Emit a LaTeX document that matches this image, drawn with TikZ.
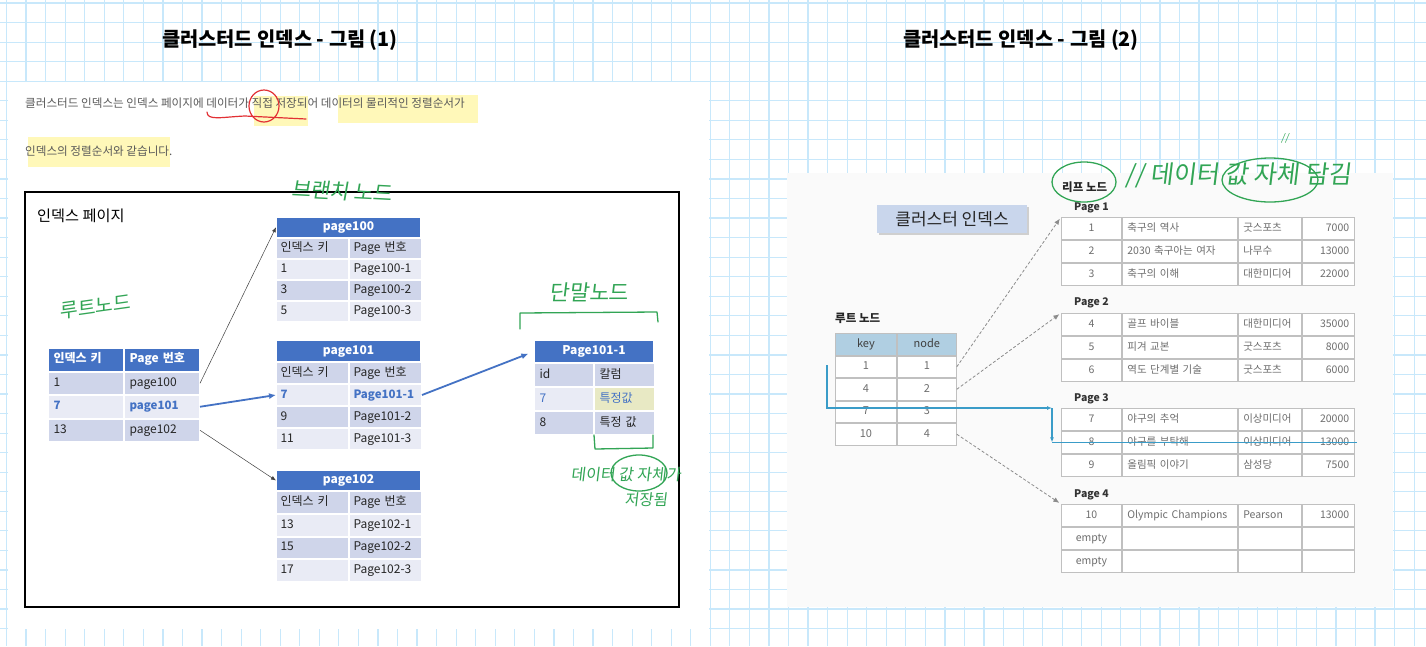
\documentclass[tikz,border=0pt]{standalone}
\usepackage{fontspec}
\setmainfont{Noto Sans CJK KR}
\newfontfamily\handfont[FakeSlant=0.12]{Noto Sans CJK KR}
\usepackage{tikz}
\usetikzlibrary{positioning, arrows.meta, calc, shadows}
\definecolor{gridblue}{RGB}{200, 232, 251}
\definecolor{hdblue}{RGB}{68, 114, 196}
\definecolor{rowdk}{RGB}{207, 213, 234}
\definecolor{rowlt}{RGB}{233, 235, 245}
\definecolor{txtdk}{RGB}{38, 38, 38}
\definecolor{bodygray}{RGB}{89, 89, 89}
\definecolor{hilite}{RGB}{255, 248, 185}
\definecolor{cellmark}{RGB}{232, 233, 196}
\definecolor{penred}{RGB}{226, 48, 52}
\definecolor{pengreen}{RGB}{50, 165, 85}
\definecolor{leafline}{RGB}{192, 192, 192}
\definecolor{leaftxt}{RGB}{110, 110, 110}
\definecolor{keyblue}{RGB}{176, 207, 226}
\definecolor{boxblue}{RGB}{201, 214, 236}
\definecolor{traceblue}{RGB}{58, 156, 200}
\definecolor{panelgray}{RGB}{250, 250, 250}
% one row of a two-column table
\newcommand{\prow}[6]{%
  \node[#3] (#1a) at #2 {#5};
  \node[#4] (#1b) at (#1a.north east) {#6};
}
% one row of a leaf page (right picture)
\newcommand{\leafrow}[6]{%
  \node[lcell, lc1] (#1a) at #2 {#3};
  \node[lcell, lc2] (#1b) at (#1a.north east) {#4};
  \node[lcell, lc3] (#1c) at (#1b.north east) {#5};
  \node[lcell, lc4] (#1d) at (#1c.north east) {#6};
}
\tikzset{
  gridline/.style={draw=gridblue, line width=1.2pt},
  title/.style={font=\fontsize{19.8}{22}\selectfont\bfseries, text=black},
  intro/.style={font=\fontsize{11.6}{14}\selectfont, text=bodygray, anchor=west, inner sep=0pt},
  cell/.style={draw=white, line width=1pt, inner xsep=5pt, inner ysep=0pt,
    font=\fontsize{12}{14}\selectfont, text=txtdk, align=left, anchor=north west,
    text height=9pt, text depth=3pt},
  rootcol/.style={cell, text width=65pt, minimum height=22.5pt},
  pagecol/.style={cell, inner xsep=4pt, text width=64pt, minimum height=21pt},
  leafA/.style={cell, text width=49pt, minimum height=23pt},
  leafB/.style={cell, text width=50pt, minimum height=23pt},
  bar/.style={cell, fill=hdblue, text=white, font=\fontsize{12}{14}\selectfont\bfseries,
    text width=134pt, align=center},
  hdr/.style={fill=hdblue, text=white, font=\fontsize{12}{14}\selectfont\bfseries},
  dk/.style={fill=rowdk},
  lt/.style={fill=rowlt},
  hot/.style={text=hdblue, font=\fontsize{11.5}{14}\selectfont\bfseries},
  hotlt/.style={text=hdblue},
  marked/.style={fill=cellmark},
  thinarrow/.style={draw=black!75, line width=0.5pt, -{Latex[length=5pt, width=4pt]}},
  hotarrow/.style={draw=hdblue, line width=1.8pt, -{Latex[length=7pt, width=6pt]}},
  pen/.style={draw=pengreen, line width=1.3pt, line cap=round, line join=round},
  redpen/.style={draw=penred, line width=1.2pt, line cap=round, line join=round},
  hand/.style={text=pengreen, inner sep=0pt},
  clbox/.style={fill=boxblue, minimum width=150pt, minimum height=28pt,
    font=\fontsize{17}{19}\selectfont, text=black!85,
    drop shadow={shadow xshift=1.5pt, shadow yshift=-1.5pt, opacity=0.35}},
  boldlbl/.style={font=\fontsize{11.5}{13}\selectfont\bfseries, text=black!85, anchor=west, inner sep=0pt},
  pagelbl/.style={font=\fontsize{10.5}{12}\selectfont\bfseries, text=black!80, anchor=west, inner sep=0pt},
  lcell/.style={draw=leafline, line width=0.9pt, fill=white, inner xsep=5pt, inner ysep=0pt,
    minimum height=22pt, font=\fontsize{10.5}{12}\selectfont, text=leaftxt, anchor=north west,
    text height=8pt, text depth=2.5pt},
  lc1/.style={text width=50pt, align=center},
  lc2/.style={text width=105pt, align=left},
  lc3/.style={text width=53pt, align=left},
  lc4/.style={text width=42pt, align=right},
  rkey/.style={lcell, text width=51pt, align=center, minimum height=21.6pt, font=\fontsize{11}{13}\selectfont},
  rnode/.style={lcell, text width=49pt, align=center, minimum height=21.6pt, font=\fontsize{11}{13}\selectfont},
  keyhd/.style={fill=keyblue, text=black!75},
  dashlink/.style={draw=black!45, densely dashed, line width=0.8pt, -{Latex[length=6pt, width=5pt]}},
  trace/.style={draw=traceblue, line width=1.1pt},
}

\begin{document}
\begin{tikzpicture}[x=1pt, y=-1pt, >=Latex]
\useasboundingbox (0,0) rectangle (1426,646);

% grid paper and the two panels
\foreach \i in {0,...,72} \draw[gridline] (6.5+19.55*\i,0) -- (6.5+19.55*\i,646);
\foreach \j in {0,...,32} \draw[gridline] (0,3+19.55*\j) -- (1426,3+19.55*\j);
\fill[white] (8,82) rectangle (709,629);
\fill[panelgray] (787,173) rectangle (1393,607);

\node[title] (title1) at (280,40) {클러스터드 인덱스 - 그림 (1)};
\node[title] (title2) at (1021,40) {클러스터드 인덱스 - 그림 (2)};

% ---------------- picture (1) ----------------
\fill[hilite] (254,96) rectangle (308,126);
\fill[hilite] (338,95) rectangle (478,123);
\fill[hilite] (28,137) rectangle (170,167);
\node[intro] (intro1) at (25,103) {클러스터드 인덱스는 인덱스 페이지에 데이터가 직접 저장되어 데이터의 물리적인 정렬순서가};
\node[intro] (intro2) at (25,151) {인덱스의 정렬순서와 같습니다.};
\draw[redpen] (264,106) ellipse [x radius=15, y radius=16];
\draw[redpen] (207,112) .. controls (207,121) and (222,117) .. (245,116) -- (306,119);

\draw[line width=2pt] (25,192) rectangle (679,607);
\node[anchor=west, inner sep=0pt, font=\fontsize{15.2}{17}\selectfont] (ipage) at (37,216) {인덱스 페이지};

% root
\prow{lr0}{(48,348)}{rootcol,hdr}{rootcol,hdr}{인덱스 키}{Page 번호}
\prow{lr1}{(lr0a.south west)}{rootcol,dk}{rootcol,dk}{1}{page100}
\prow{lr2}{(lr1a.south west)}{rootcol,lt,hot}{rootcol,lt,hot}{7}{page101}
\prow{lr3}{(lr2a.south west)}{rootcol,dk}{rootcol,dk}{13}{page102}

% branch pages
\node[bar, minimum height=19.5pt] (p100) at (276,217) {page100};
\prow{p100r0}{(p100.south west)}{pagecol,dk,minimum height=20pt}{pagecol,dk,minimum height=20pt}{인덱스 키}{Page 번호}
\prow{p100r1}{(p100r0a.south west)}{pagecol,lt,minimum height=20pt}{pagecol,lt,minimum height=20pt}{1}{Page100-1}
\prow{p100r2}{(p100r1a.south west)}{pagecol,dk,minimum height=20pt}{pagecol,dk,minimum height=20pt}{3}{Page100-2}
\prow{p100r3}{(p100r2a.south west)}{pagecol,lt,minimum height=20pt}{pagecol,lt,minimum height=20pt}{5}{Page100-3}

\node[bar, minimum height=21pt] (p101) at (276,340) {page101};
\prow{p101r0}{(p101.south west)}{pagecol,dk}{pagecol,dk}{인덱스 키}{Page 번호}
\prow{p101r1}{(p101r0a.south west)}{pagecol,lt,hot}{pagecol,lt,hot}{7}{Page101-1}
\prow{p101r2}{(p101r1a.south west)}{pagecol,dk}{pagecol,dk}{9}{Page101-2}
\prow{p101r3}{(p101r2a.south west)}{pagecol,lt}{pagecol,lt}{11}{Page101-3}

\node[bar, minimum height=20pt] (p102) at (276,470) {page102};
\prow{p102r0}{(p102.south west)}{pagecol,dk,minimum height=21.75pt}{pagecol,dk,minimum height=21.75pt}{인덱스 키}{Page 번호}
\prow{p102r1}{(p102r0a.south west)}{pagecol,lt,minimum height=21.75pt}{pagecol,lt,minimum height=21.75pt}{13}{Page102-1}
\prow{p102r2}{(p102r1a.south west)}{pagecol,dk,minimum height=21.75pt}{pagecol,dk,minimum height=21.75pt}{15}{Page102-2}
\prow{p102r3}{(p102r2a.south west)}{pagecol,lt,minimum height=21.75pt}{pagecol,lt,minimum height=21.75pt}{17}{Page102-3}

% leaf page
\node[bar, text width=109pt, minimum height=22pt] (leaf) at (534,340) {Page101-1};
\prow{lf0}{(leaf.south west)}{leafA,dk}{leafB,dk}{id}{칼럼}
\prow{lf1}{(lf0a.south west)}{leafA,lt,hotlt}{leafB,marked,hotlt}{7}{특정값}
\prow{lf2}{(lf1a.south west)}{leafA,dk}{leafB,dk}{8}{특정 값}

\draw[thinarrow] (lr1b.east) -- (p100.west);
\draw[thinarrow] (lr3b.east) -- (p102.west);
\draw[hotarrow] (lr2b.east) -- (p101r1a.west);
\draw[hotarrow, shorten >=6pt] (p101r1b.east) -- (leaf.west);

% pen notes
\node[hand, font=\handfont\fontsize{21}{23}\selectfont, rotate=-3] (nbranch) at (342,191) {브랜치 노드};
\node[hand, font=\handfont\fontsize{19.5}{21}\selectfont, rotate=8] (nroot) at (95,307) {루트노드};
\node[hand, font=\handfont\fontsize{21.5}{23}\selectfont] (nleaf) at (589,292) {단말노드};
\draw[pen] (520,329) -- (520,313) -- (657,312) -- (658,322);
\draw[pen] (594,435) -- (595,449) -- (653,448) -- (653,435);
\node[hand, font=\handfont\fontsize{16}{18}\selectfont] (nvalue) at (626,475) {데이터 값 자체가};
\node[hand, font=\handfont\fontsize{15.5}{17}\selectfont] (nstored) at (646,500) {저장됨};
\draw[pen] (639,473) ellipse [x radius=28, y radius=18];

% ---------------- picture (2) ----------------
\node[clbox] (clidx) at (952,219) {클러스터 인덱스};
\node[boldlbl] (rootlbl) at (835,318) {루트 노드};
\prow{rr0}{(835,333)}{rkey,keyhd}{rnode,keyhd}{key}{node}
\prow{rr1}{(rr0a.south west)}{rkey}{rnode}{1}{1}
\prow{rr2}{(rr1a.south west)}{rkey}{rnode}{4}{2}
\prow{rr3}{(rr2a.south west)}{rkey}{rnode}{7}{3}
\prow{rr4}{(rr3a.south west)}{rkey}{rnode}{10}{4}

\node[boldlbl] (leaflbl) at (1062,187) {리프 노드};

\node[pagelbl] (pl1) at (1074,208) {Page 1};
\leafrow{pg1r1}{(1061,217)}{1}{축구의 역사}{굿스포츠}{7000}
\leafrow{pg1r2}{(pg1r1a.south west)}{2}{2030 축구아는 여자}{나무수}{13000}
\leafrow{pg1r3}{(pg1r2a.south west)}{3}{축구의 이해}{대한미디어}{22000}

\node[pagelbl] (pl2) at (1074,303) {Page 2};
\leafrow{pg2r1}{(1061,313)}{4}{골프 바이블}{대한미디어}{35000}
\leafrow{pg2r2}{(pg2r1a.south west)}{5}{피겨 교본}{굿스포츠}{8000}
\leafrow{pg2r3}{(pg2r2a.south west)}{6}{역도 단계별 기술}{굿스포츠}{6000}

\node[pagelbl] (pl3) at (1074,399) {Page 3};
\leafrow{pg3r1}{(1061,408)}{7}{야구의 추억}{이상미디어}{20000}
\leafrow{pg3r2}{(pg3r1a.south west)}{8}{야구를 부탁해}{이상미디어}{13000}
\leafrow{pg3r3}{(pg3r2a.south west)}{9}{올림픽 이야기}{삼성당}{7500}

\node[pagelbl] (pl4) at (1074,495) {Page 4};
\leafrow{pg4r1}{(1061,504)}{10}{Olympic Champions}{Pearson}{13000}
\leafrow{pg4r2}{(pg4r1a.south west)}{empty}{}{}{}
\leafrow{pg4r3}{(pg4r2a.south west)}{empty}{}{}{}

\draw[dashlink, shorten >=2pt] (rr1b.east) -- (pg1r1a.north west);
\draw[dashlink, shorten >=2pt] (rr2b.east) -- (pg2r1a.north west);
\draw[dashlink, shorten >=2pt] (rr4b.east) -- (pg4r1a.north west);

% search path for key 8
\coordinate (tstart) at (827,365);
\coordinate (tturn) at ($(pg3r1a.north west)+(-9,0)$);
\coordinate (tdown) at (tturn |- pg3r2a.west);
\draw[trace, -{Latex[length=5pt, width=4pt]}] (tstart) |- (tturn);
\draw[trace, -{Latex[length=5pt, width=4pt]}] (tturn) -- (tdown);
\draw[trace] (tdown) -- ($(pg3r2d.east)+(2,0)$);

% pen notes
\draw[pen] (1084,182) ellipse [x radius=32, y radius=20];
\node[hand, font=\handfont\fontsize{25}{27}\selectfont, anchor=west] (nkeep) at (1125,175) {// 데이터 값 자체 담김};
\draw[pen] (1270,180) ellipse [x radius=48, y radius=22];
\node[hand, font=\handfont\fontsize{10}{12}\selectfont] (nmark) at (1285,138) {//};

\end{tikzpicture}
\end{document}
